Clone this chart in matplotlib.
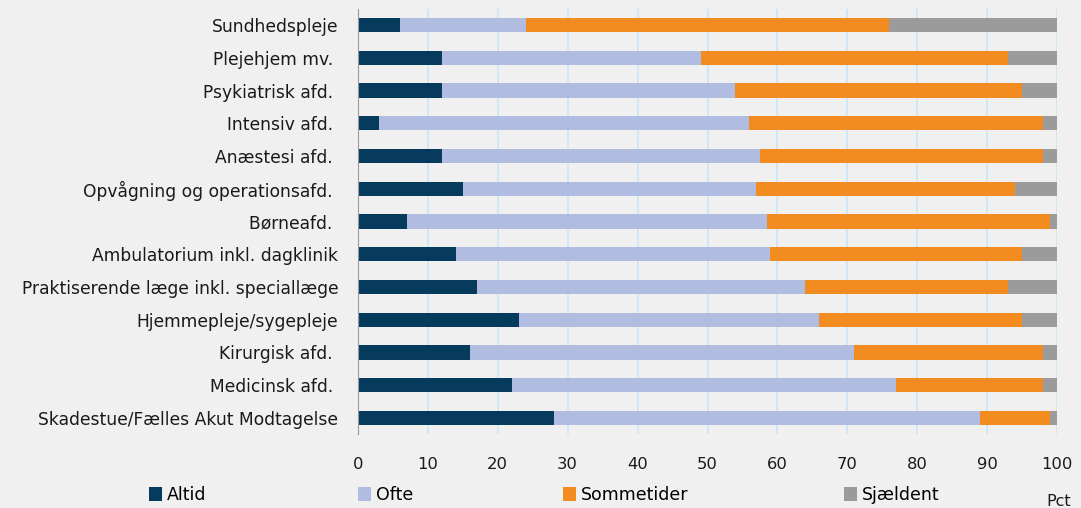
import numpy as np
import matplotlib.pyplot as plt
from matplotlib.patches import Patch

plt.rcParams['font.family'] = ['DejaVu Sans']

kategorier = ["Sundhedspleje", "Plejehjem mv. ", "Psykiatrisk afd. ", "Intensiv afd. ",
              "Anæstesi afd. ", "Opvågning og operationsafd. ", "Børneafd. ",
              "Ambulatorium inkl. dagklinik", "Praktiserende læge inkl. speciallæge",
              "Hjemmepleje/sygepleje", "Kirurgisk afd. ", "Medicinsk afd. ",
              "Skadestue/Fælles Akut Modtagelse"]
altid = [6, 12, 12, 3, 12, 15, 7, 14, 17, 23, 16, 22, 28]
ofte = [18, 37, 42, 53, 45.5, 42, 51.5, 45, 47, 43, 55, 55, 61]
sommetider = [52, 44, 41, 42, 40.5, 37, 40.5, 36, 29, 29, 27, 21, 10]
sjaeldent = [24, 7, 5, 2, 2, 6, 1, 5, 7, 5, 2, 2, 1]

serier = ["Altid", "Ofte", "Sommetider", "Sjældent"]
farver = ["#073b5e", "#b0bde0", "#f28b20", "#9b9b9b"]
bg = "#f0f0f0"

fig = plt.figure(figsize=(10.81, 5.08), dpi=100, facecolor=bg)
ax = fig.add_axes([0.331, 0.145, 0.647, 0.838], facecolor=bg)

y = np.arange(len(kategorier))[::-1]
venstre = np.zeros(len(kategorier))
for vals, navn, f in zip([altid, ofte, sommetider, sjaeldent], serier, farver):
    ax.barh(y, vals, left=venstre, height=0.44, color=f, label=navn, zorder=3)
    venstre += np.array(vals)

ax.set_xlim(0, 100)
ax.set_ylim(-0.5, len(kategorier) - 0.5)
ax.set_xticks(range(0, 101, 10))
ax.set_yticks(y)
ax.set_yticklabels(kategorier, fontsize=12.3, color="#1a1a1a")
ax.tick_params(axis="x", labelsize=11.8, colors="#1a1a1a", length=0, pad=16)
ax.tick_params(axis="y", length=0, pad=14)
ax.grid(axis="x", color="#cfe7f7", linewidth=1.3, zorder=0)
for s in ["top", "right", "bottom"]:
    ax.spines[s].set_visible(False)
ax.spines["left"].set_color("#9a9a9a")
ax.spines["left"].set_zorder(4)

# legend entries placed one by one like the original
leg_x = [0.131, 0.325, 0.514, 0.774]
for n, f, lx in zip(serier, farver, leg_x):
    fig.legend(handles=[Patch(facecolor=f, label=n)], loc="lower left",
               bbox_to_anchor=(lx, -0.006), frameon=False, fontsize=12.5,
               handlelength=0.75, handleheight=0.9, handletextpad=0.3,
               borderaxespad=0)
fig.text(0.968, -0.002, "Pct", fontsize=11.5, color="#1a1a1a", ha="left", va="bottom")

fig.savefig("out.png", dpi=100, facecolor=bg)
